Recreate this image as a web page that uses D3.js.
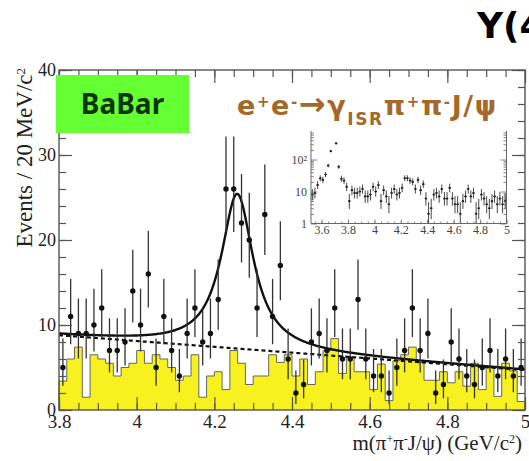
<!DOCTYPE html>
<html lang="en">
<head>
<meta charset="UTF-8">
<title>Y(4260) BaBar</title>
<script src="https://d3js.org/d3.v7.min.js"></script>
<style>
  body { margin: 0; background: #fff; }
  svg { display: block; }
  .frame { stroke: #555; stroke-width: 1.4; fill: none; }
  .axis path { display: none; }
  .axis line { stroke: #555; stroke-width: 1.2; }
  .axis text { font-family: "Liberation Serif", serif; fill: #222; }
  .inset .axis line { stroke: #666; stroke-width: 0.8; }
  .inset .axis text { fill: #444; }
</style>
</head>
<body>
<div id="chart"></div>
<script>
// events per 20 MeV bin, 3.80 - 5.00 GeV/c2
const binStart = 3.8, binWidth = 0.02;
const counts = [5, 11, 9, 9, 10, 12, 7, 7, 8, 14,
                10, 16, 5, 11, 7, 4, 9, 12, 8, 9,
                13, 26, 26, 22, 20, 12, 23, 11, 17, 6,
                2, 3, 8, 9, 7, 12, 6, 6, 13, 6,
                4, 4, 2, 5, 7, 12, 7, 9, 2, 3,
                8, 6, 4, 3, 5, 7, 4, 6, 4, 5];
// J/psi sideband (yellow histogram)
const sideband = [3.4, 6, 7.4, 1.5, 6.5, 6, 5.5, 4, 5, 5.5,
                  7, 5.5, 6.5, 6, 5, 3.5, 4, 6.5, 1.5, 4,
                  4.5, 2.4, 7, 5.5, 3, 4, 4, 6.5, 5.6, 6.5,
                  4, 6, 3, 4.5, 7, 8.4, 4.3, 6.2, 4.5, 4.5,
                  2.4, 5.4, 1.1, 5.8, 6.5, 7.4, 5.6, 3.5, 3.5, 4.5,
                  3.2, 4.5, 2.8, 5.5, 2.4, 5, 1.6, 5.5, 4.6, 1.0];
// inset: bins below 3.80 (from 3.52), null = off scale (psi(2S))
const insetLowStart = 3.52;
const insetLowCounts = [8, 9, 16, 26, 23, 34, 65, 183, null, 320, 59, 25, 22, 14];

const xTicks = [3.8, 4, 4.2, 4.4, 4.6, 4.8, 5];
const yTicks = [0, 10, 20, 30, 40];
const insetXTicks = [3.6, 3.8, 4, 4.2, 4.4, 4.6, 4.8, 5];
const insetYTicks = [1, 10, 100];

// fit: linear background + Breit-Wigner
const bgPars = [8.8, -3.42];          // value at 3.8, slope per GeV
const bwPars = [4.259, 0.10, 18.2];   // mass, width, peak height

const width = 529, height = 461;

const svg = d3.select("#chart").append("svg")
    .attr("width", width)
    .attr("height", height);

const x = d3.scaleLinear().domain([3.8, 5.0]).range([59, 525]);
const y = d3.scaleLinear().domain([0, 40]).range([410, 70]);

// poisson (Gehrels) error bars
const errUp = n => n + 1 + Math.sqrt(n + 0.75);
const errLo = n => n * Math.pow(1 - 1 / (9 * n) - 1 / (3 * Math.sqrt(n)), 3);

// sideband histogram as one closed step outline
const histPts = [[binStart, 0]];
sideband.forEach((v, i) => {
    histPts.push([binStart + i * binWidth, v]);
    histPts.push([binStart + (i + 1) * binWidth, v]);
});
histPts.push([binStart + sideband.length * binWidth, 0]);

svg.append("path")
    .datum(histPts)
    .attr("d", d3.line().x(d => x(d[0])).y(d => y(d[1])))
    .attr("fill", "#f7f21f")
    .attr("stroke", "#666")
    .attr("stroke-width", 1);

// fit curves
const bg = m => bgPars[0] + bgPars[1] * (m - 3.8);
const bw = m => {
    const g2 = (bwPars[1] / 2) * (bwPars[1] / 2);
    return bwPars[2] * g2 / ((m - bwPars[0]) * (m - bwPars[0]) + g2);
};
const mGrid = d3.range(3.8, 5.0001, 0.002);

svg.append("path")
    .datum(mGrid)
    .attr("d", d3.line().x(m => x(m)).y(m => y(bg(m))))
    .attr("fill", "none")
    .attr("stroke", "#111")
    .attr("stroke-width", 2.2)
    .attr("stroke-dasharray", "4,3");

svg.append("path")
    .datum(mGrid)
    .attr("d", d3.line().x(m => x(m)).y(m => y(bg(m) + bw(m))))
    .attr("fill", "none")
    .attr("stroke", "#111")
    .attr("stroke-width", 2.4);

// data points
const pts = counts.map((n, i) => ({ m: binStart + (i + 0.5) * binWidth, n: n }));

svg.append("g").selectAll("line")
    .data(pts)
    .enter().append("line")
    .attr("x1", d => x(d.m)).attr("x2", d => x(d.m))
    .attr("y1", d => y(Math.max(0, errLo(d.n))))
    .attr("y2", d => y(Math.min(40, errUp(d.n))))
    .attr("stroke", "#333")
    .attr("stroke-width", 1.3);

svg.append("g").selectAll("circle")
    .data(pts)
    .enter().append("circle")
    .attr("cx", d => x(d.m))
    .attr("cy", d => y(d.n))
    .attr("r", 2.7)
    .attr("fill", "#111");

// axes
const fmt = d3.format("~g");

svg.append("g").attr("class", "axis")
    .attr("transform", `translate(0,${y(0)})`)
    .call(d3.axisBottom(x).tickValues(d3.range(3.8, 5.001, 0.05)).tickSizeInner(-7).tickSizeOuter(0).tickFormat(""));
svg.append("g").attr("class", "axis")
    .attr("transform", `translate(0,${y(0)})`)
    .call(d3.axisBottom(x).tickValues(xTicks).tickSizeInner(-13).tickSizeOuter(0).tickPadding(5).tickFormat(fmt))
    .selectAll("text").style("font-size", "19px");

svg.append("g").attr("class", "axis")
    .attr("transform", `translate(0,${y(40)})`)
    .call(d3.axisTop(x).tickValues(d3.range(3.8, 5.001, 0.05)).tickSizeInner(-7).tickSizeOuter(0).tickFormat(""));
svg.append("g").attr("class", "axis")
    .attr("transform", `translate(0,${y(40)})`)
    .call(d3.axisTop(x).tickValues(xTicks).tickSizeInner(-13).tickSizeOuter(0).tickFormat(""));

svg.append("g").attr("class", "axis")
    .attr("transform", `translate(${x(3.8)},0)`)
    .call(d3.axisLeft(y).tickValues(d3.range(0, 41, 2)).tickSizeInner(-7).tickSizeOuter(0).tickFormat(""));
svg.append("g").attr("class", "axis")
    .attr("transform", `translate(${x(3.8)},0)`)
    .call(d3.axisLeft(y).tickValues(yTicks).tickSizeInner(-13).tickSizeOuter(0).tickPadding(3))
    .selectAll("text").style("font-size", "18px");

svg.append("g").attr("class", "axis")
    .attr("transform", `translate(${x(5.0)},0)`)
    .call(d3.axisRight(y).tickValues(d3.range(0, 41, 2)).tickSizeInner(-7).tickSizeOuter(0).tickFormat(""));
svg.append("g").attr("class", "axis")
    .attr("transform", `translate(${x(5.0)},0)`)
    .call(d3.axisRight(y).tickValues(yTicks).tickSizeInner(-13).tickSizeOuter(0).tickFormat(""));

svg.append("rect").attr("class", "frame")
    .attr("x", x(3.8)).attr("y", y(40))
    .attr("width", x(5.0) - x(3.8)).attr("height", y(0) - y(40));

// axis titles
const serif = "'Liberation Serif', serif";
const xt = svg.append("text")
    .attr("x", 522).attr("y", 450)
    .attr("text-anchor", "end")
    .style("font-family", serif).style("font-size", "21px").style("fill", "#222");
xt.append("tspan").text("m(π");
xt.append("tspan").attr("baseline-shift", "super").style("font-size", "12px").text("+");
xt.append("tspan").text("π");
xt.append("tspan").attr("baseline-shift", "super").style("font-size", "12px").text("-");
xt.append("tspan").text("J/ψ) (GeV/c");
xt.append("tspan").attr("baseline-shift", "super").style("font-size", "12px").text("2");
xt.append("tspan").text(")");

const yt = svg.append("text")
    .attr("transform", "translate(32,68) rotate(-90)")
    .attr("text-anchor", "end")
    .style("font-family", serif).style("font-size", "23px").style("fill", "#222");
yt.append("tspan").text("Events / 20 MeV/c");
yt.append("tspan").attr("baseline-shift", "super").style("font-size", "13px").text("2");

// inset, log scale, wider mass range
const inset = svg.append("g").attr("class", "inset");
const x2 = d3.scaleLinear().domain([3.52, 5.0]).range([311, 506.5]);
const y2 = d3.scaleLog().domain([1, 780]).range([223.5, 131]).clamp(true);

const insetPts = insetLowCounts.map((n, i) => ({ m: insetLowStart + (i + 0.5) * binWidth, n: n }))
    .concat(pts)
    .filter(d => d.n !== null);

inset.append("g").selectAll("line")
    .data(insetPts)
    .enter().append("line")
    .attr("x1", d => x2(d.m)).attr("x2", d => x2(d.m))
    .attr("y1", d => y2(Math.max(1, errLo(d.n))))
    .attr("y2", d => y2(errUp(d.n)))
    .attr("stroke", "#333").attr("stroke-width", 0.9);

inset.append("g").selectAll("line")
    .data(insetPts)
    .enter().append("line")
    .attr("x1", d => x2(d.m - binWidth / 2)).attr("x2", d => x2(d.m + binWidth / 2))
    .attr("y1", d => y2(d.n)).attr("y2", d => y2(d.n))
    .attr("stroke", "#333").attr("stroke-width", 0.9);

inset.append("g").selectAll("circle")
    .data(insetPts)
    .enter().append("circle")
    .attr("cx", d => x2(d.m)).attr("cy", d => y2(d.n))
    .attr("r", 1.1).attr("fill", "#222");

const logMinor = [2, 3, 4, 5, 6, 7, 8, 9, 20, 30, 40, 50, 60, 70, 80, 90, 200, 300, 400, 500, 600, 700];
inset.append("g").attr("class", "axis")
    .attr("transform", `translate(${x2.range()[0]},0)`)
    .call(d3.axisLeft(y2).tickValues(logMinor).tickSizeInner(-3).tickSizeOuter(0).tickFormat(""));
inset.append("g").attr("class", "axis")
    .attr("transform", `translate(${x2.range()[0]},0)`)
    .call(d3.axisLeft(y2).tickValues(insetYTicks).tickSizeInner(-6).tickSizeOuter(0).tickPadding(4)
        .tickFormat(d => d === 100 ? "10²" : d))
    .selectAll("text").style("font-size", "12px");
inset.append("g").attr("class", "axis")
    .attr("transform", `translate(${x2.range()[1]},0)`)
    .call(d3.axisRight(y2).tickValues(logMinor).tickSizeInner(-3).tickSizeOuter(0).tickFormat(""));
inset.append("g").attr("class", "axis")
    .attr("transform", `translate(${x2.range()[1]},0)`)
    .call(d3.axisRight(y2).tickValues(insetYTicks).tickSizeInner(-6).tickSizeOuter(0).tickFormat(""));
inset.append("g").attr("class", "axis")
    .attr("transform", `translate(0,${y2.range()[0]})`)
    .call(d3.axisBottom(x2).tickValues(d3.range(3.55, 5.001, 0.05)).tickSizeInner(-2).tickSizeOuter(0).tickFormat(""));
inset.append("g").attr("class", "axis")
    .attr("transform", `translate(0,${y2.range()[0]})`)
    .call(d3.axisBottom(x2).tickValues(insetXTicks).tickSizeInner(-4).tickSizeOuter(0).tickPadding(2).tickFormat(fmt))
    .selectAll("text").style("font-size", "12px");

inset.append("path")
    .attr("d", d3.line()([[x2.range()[0], y2.range()[1]], [x2.range()[0], y2.range()[0]],
                          [x2.range()[1], y2.range()[0]], [x2.range()[1], y2.range()[1]]]))
    .attr("fill", "none").attr("stroke", "#666").attr("stroke-width", 1);

// labels on top
svg.append("rect")
    .attr("x", 56).attr("y", 75).attr("width", 133).attr("height", 58)
    .attr("fill", "#66ff33");
svg.append("text")
    .attr("x", 122.5).attr("y", 114)
    .attr("text-anchor", "middle")
    .style("font-family", "'Noto Sans', sans-serif").style("font-weight", "bold")
    .style("font-size", "28px").style("fill", "#0b3508")
    .text("BaBar");

const formula = svg.append("text")
    .attr("x", 237).attr("y", 115)
    .style("font-family", "'DejaVu Sans', sans-serif").style("font-weight", "bold")
    .style("font-size", "27px").style("letter-spacing", "1.6px").style("fill", "#a3682c");
const sup = (t) => formula.append("tspan").attr("baseline-shift", "55%").style("font-size", "15px").text(t);
formula.append("tspan").text("e");
sup("+");
formula.append("tspan").text("e");
sup("-");
formula.append("tspan").style("font-size", "32px").text("→");
formula.append("tspan").text("γ");
formula.append("tspan").attr("baseline-shift", "sub").style("font-size", "17px").text("ISR");
formula.append("tspan").text("π");
sup("+");
formula.append("tspan").text("π");
sup("-");
formula.append("tspan").text("J/ψ");

svg.append("text")
    .attr("x", 477).attr("y", 38)
    .style("font-family", "'DejaVu Sans', sans-serif").style("font-weight", "bold")
    .style("font-size", "36px").style("fill", "#000")
    .text("Y(4260)");
</script>
</body>
</html>
